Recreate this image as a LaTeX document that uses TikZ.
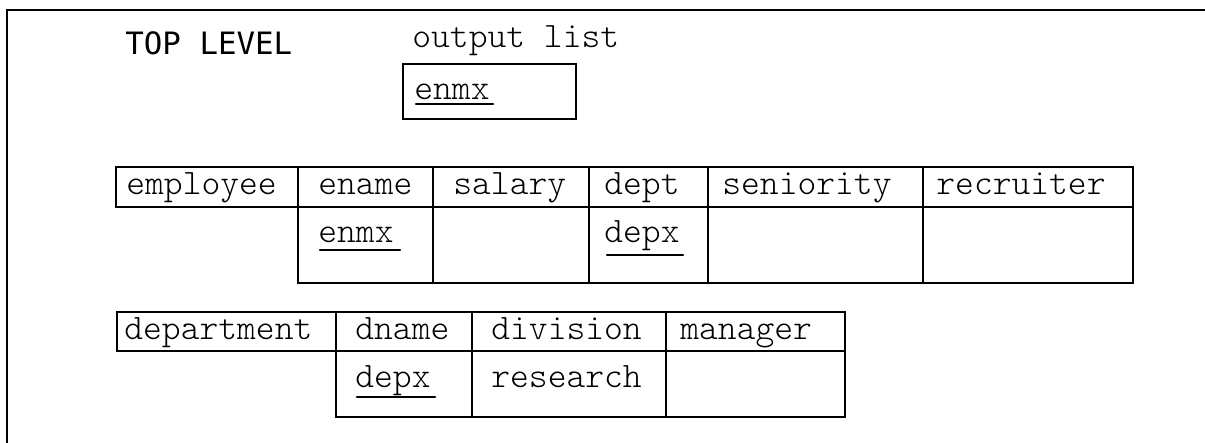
\documentclass[tikz,border=0pt]{standalone}
\usepackage{fontspec}
\newfontfamily\typefont{Latin Modern Mono Light}
\newfontfamily\gothicfont{DejaVu Sans Mono}
\begin{document}
\begin{tikzpicture}[x=0.5pt,y=-0.5pt,
  grid/.style={line width=1.4pt, line cap=rect, line join=miter},
  frame/.style={line width=1pt},
  txt/.style={inner sep=0pt, anchor=base west, font=\typefont\fontsize{17.9}{20}\selectfont},
  gothic/.style={inner sep=0pt, anchor=base west, font=\gothicfont\fontsize{15.4}{18}\selectfont},
  uline/.style={line width=1.1pt, line cap=round}]
\useasboundingbox (0,0) rectangle (1205,443);

% page frame (only top and left edges)
\draw[frame] (7,443) -- (7,10) -- (1205,10);

% heading and output list
\node[gothic] (top) at (125,55) {TOP LEVEL};
\node[txt] (outlbl) at (412,48) {output list};
\draw[grid] (403,64) rectangle (576,119);
\node[txt] (outv) at (414,100) {enmx};
\draw[uline] (416,104) -- (493,104);

% employee relation
\draw[grid] (116,167) rectangle (1133,207);
\draw[grid] (298,207) rectangle (1133,283);
\foreach \x in {298,433,589,708,923} \draw[grid] (\x,167) -- (\x,283);
\node[txt] (employee) at (126,195) {employee};
\node[txt] (ename) at (318,195) {ename};
\node[txt] (salary) at (453,195) {salary};
\node[txt] (dept) at (604,195) {dept};
\node[txt] (seniority) at (722,195) {seniority};
\node[txt] (recruiter) at (936,195) {recruiter};
\node[txt] (enmx) at (318,243) {enmx};
\draw[uline] (320,250) -- (400,250);
\node[txt] (depxA) at (604,243) {depx};
\draw[uline] (607,255) -- (683,255);

% department relation
\draw[grid] (117,312) rectangle (845,351);
\draw[grid] (336,351) rectangle (845,417);
\foreach \x in {336,472,666} \draw[grid] (\x,312) -- (\x,417);
\node[txt] (department) at (124,340) {department};
\node[txt] (dname) at (355,340) {dname};
\node[txt] (division) at (491,340) {division};
\node[txt] (manager) at (680,340) {manager};
\node[txt] (depxB) at (355,387) {depx};
\draw[uline] (357,397) -- (435,397);
\node[txt] (research) at (491,387) {research};
\end{tikzpicture}
\end{document}
